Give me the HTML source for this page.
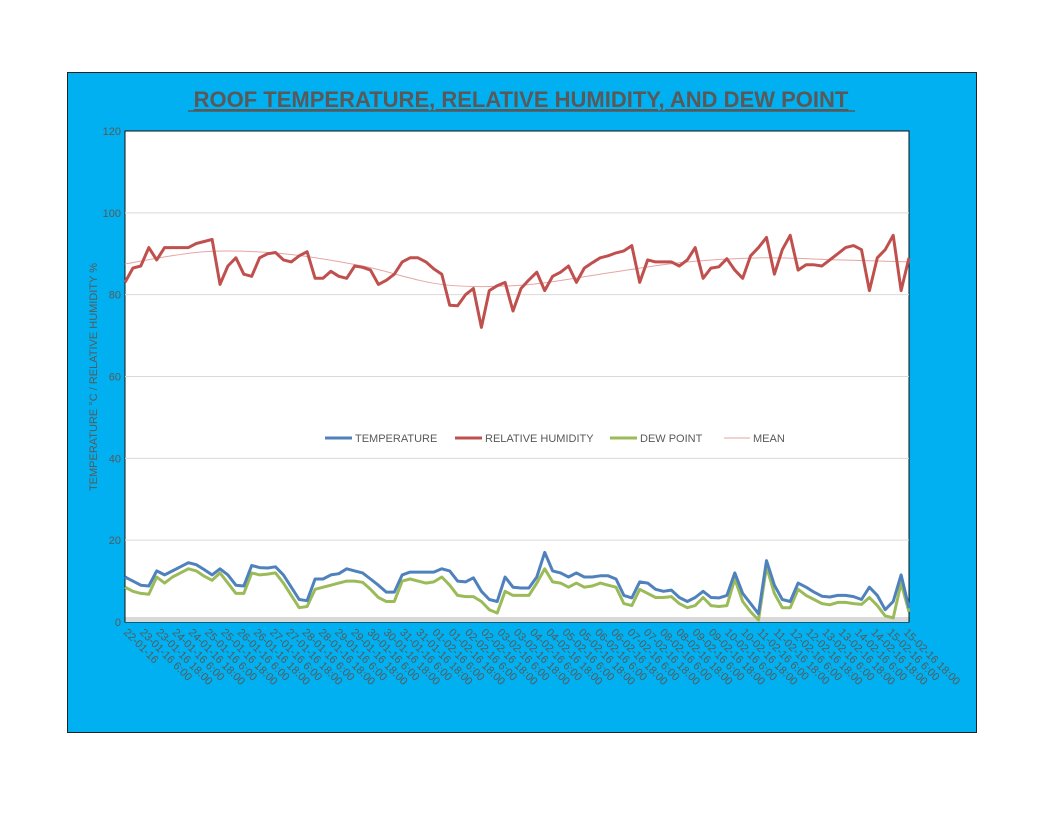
<!DOCTYPE html>
<html><head><meta charset="utf-8"><style>
body{margin:0;background:#fff;font-family:"Liberation Sans",sans-serif}
</style></head><body>
<svg width="1056" height="816" viewBox="0 0 1056 816" xmlns="http://www.w3.org/2000/svg">
<rect x="67.5" y="72.5" width="909" height="660" fill="#00B0F0" stroke="#222" stroke-width="1"/>
<text x="521" y="107" text-anchor="middle" font-size="22" font-weight="bold" fill="#595959" text-decoration="underline">ROOF TEMPERATURE, RELATIVE HUMIDITY, AND DEW POINT </text>
<line x1="188" y1="111" x2="855" y2="111" stroke="#595959" stroke-width="1.5"/>
<rect x="125" y="131" width="784" height="491" fill="#fff" stroke="#111" stroke-width="1"/>
<rect x="125.5" y="617" width="783" height="5" fill="#d9d9d9"/>
<g id="grid"></g><g id="yt"></g><g id="xt"></g><g id="series"></g>
<text transform="translate(97,377) rotate(-90)" text-anchor="middle" font-size="11" fill="#595959">TEMPERATURE °C / RELATIVE HUMIDITY %</text>
<g font-size="11" fill="#595959">
<g><line x1="325" y1="438" x2="352" y2="438" stroke="#4F81BD" stroke-width="3"/><text x="355" y="442">TEMPERATURE</text></g>
<g><line x1="455" y1="438" x2="482" y2="438" stroke="#C0504D" stroke-width="3"/><text x="485" y="442">RELATIVE HUMIDITY</text></g>
<g><line x1="610" y1="438" x2="637" y2="438" stroke="#9BBB59" stroke-width="3"/><text x="640" y="442">DEW POINT</text></g>
<g><line x1="724" y1="438" x2="750" y2="438" stroke="#E6A5A3" stroke-width="1"/><text x="753" y="442">MEAN</text></g>
</g>
</svg>
<script>
const yTicks=[0,20,40,60,80,100,120];
const dayLabels=["22-01-16","23-01-16 6:00","23-01-16 18:00","24-01-16 6:00","24-01-16 18:00","25-01-16 6:00","25-01-16 18:00","26-01-16 6:00","26-01-16 18:00","27-01-16 6:00","27-01-16 18:00","28-01-16 6:00","28-01-16 18:00","29-01-16 6:00","29-01-16 18:00","30-01-16 6:00","30-01-16 18:00","31-01-16 6:00","31-01-16 18:00","01-02-16 6:00","01-02-16 18:00","02-02-16 6:00","02-02-16 18:00","03-02-16 6:00","03-02-16 18:00","04-02-16 6:00","04-02-16 18:00","05-02-16 6:00","05-02-16 18:00","06-02-16 6:00","06-02-16 18:00","07-02-16 6:00","07-02-16 18:00","08-02-16 6:00","08-02-16 18:00","09-02-16 6:00","09-02-16 18:00","10-02-16 6:00","10-02-16 18:00","11-02-16 6:00","11-02-16 18:00","12-02-16 6:00","12-02-16 18:00","13-02-16 6:00","13-02-16 18:00","14-02-16 6:00","14-02-16 18:00","15-02-16 6:00","15-02-16 18:00"];
const humidity=[83,86.5,87,91.5,88.5,91.5,91.5,91.5,91.5,92.5,93,93.5,82.5,87,89,85,84.5,89,90,90.3,88.5,88,89.5,90.5,84,84,85.7,84.5,84,87,86.7,86,82.5,83.5,85,88,89,89,88,86.3,85,77.4,77.3,80,81.5,72,81,82.2,83,76,81.5,83.6,85.5,81,84.5,85.5,87,83,86.5,87.8,89,89.5,90.2,90.7,92,83,88.5,88,88,88,87,88.5,91.5,84,86.5,86.8,88.8,86,84,89.5,91.5,94,85,91,94.5,86,87.3,87.3,87,88.5,90,91.5,92,91,81,89,91,94.5,81,89];
const temperature=[11,10,9,8.8,12.5,11.5,12.5,13.5,14.5,14,12.8,11.5,13,11.5,9,8.8,13.8,13.3,13.2,13.5,11.5,8.5,5.5,5.2,10.5,10.5,11.5,11.8,13,12.5,12,10.5,9,7.3,7.3,11.5,12.2,12.2,12.2,12.2,13,12.5,10,9.8,10.8,7.5,5.5,5,11,8.5,8.3,8.3,11,17,12.5,12,11,12,11,11,11.3,11.3,10.5,6.5,5.9,9.8,9.5,8,7.5,7.8,6,5,6,7.5,6,5.9,6.5,12,7,4.5,2,15,9,5.5,5,9.5,8.5,7.3,6.3,6.1,6.5,6.5,6.2,5.5,8.5,6.5,3,5,11.5,3.4];
const dewPoint=[8.5,7.5,7,6.8,11,9.5,11,12,13,12.5,11.2,10.2,12,9.5,7,7,12,11.5,11.7,12,9.5,6.5,3.5,3.8,8,8.5,9,9.5,10,10,9.7,8,6,5,5,10,10.5,10,9.5,9.8,11,9,6.5,6.2,6.2,5,3,2.2,7.5,6.5,6.5,6.5,9.5,13,9.8,9.5,8.5,9.5,8.5,8.8,9.5,9,8.5,4.5,4,8,7,6,6,6.2,4.5,3.5,4,6,4,3.8,4,10.5,5,2.5,0.5,13.5,7,3.5,3.5,8,6.5,5.5,4.5,4.2,4.8,4.8,4.5,4.3,6,4,1.5,1,9.5,2.5];
const meanIdx=[0,10,20,30,40,50,60,70,80,90,99];
const meanVals=[87.5,90.5,90,87,82.5,82.3,85,87.8,89,88.5,88];
const NS="http://www.w3.org/2000/svg";
const X0=125,X1=909,Y0=622,Y1=131,N=humidity.length-1;
const sx=i=>X0+(X1-X0)*i/N;
const sy=v=>Y0-(Y0-Y1)*v/120;
function mk(t,a,p){const e=document.createElementNS(NS,t);for(const k in a)e.setAttribute(k,a[k]);p.appendChild(e);return e;}
const grid=document.getElementById('grid'),yt=document.getElementById('yt'),xt=document.getElementById('xt'),ser=document.getElementById('series');
yTicks.forEach(v=>{
 if(v>0&&v<120){const g=mk('line',{x1:X0,x2:X1,y1:sy(v),y2:sy(v),stroke:'#d9d9d9','stroke-width':1},grid);
 
 }
 const t=mk('text',{x:121,y:sy(v)+4,'text-anchor':'end','font-size':11,fill:'#595959'},yt);t.textContent=v;
 
 
});
dayLabels.forEach((s,i)=>{
 const x=X0+i*(905-X0)/(dayLabels.length-1);
 const t=mk('text',{transform:`translate(${x-2},${633}) rotate(45)`,'font-size':11,fill:'#595959'},xt);t.textContent=s;
 
 
});
function line(arr,col,w,name){
 const d=arr.map((v,i)=>(i?'L':'M')+sx(i).toFixed(1)+' '+sy(v).toFixed(1)).join('');
 const p=mk('path',{d,fill:'none',stroke:col,'stroke-width':w,'stroke-linejoin':'round'},ser);
 
 
}
const mpts=meanIdx.map((k,i)=>[sx(k),sy(meanVals[i])]);
let md='M'+mpts[0][0]+' '+mpts[0][1];
for(let i=0;i<mpts.length-1;i++){
 const p0=mpts[Math.max(0,i-1)],p1=mpts[i],p2=mpts[i+1],p3=mpts[Math.min(mpts.length-1,i+2)];
 md+=` C${p1[0]+(p2[0]-p0[0])/6} ${p1[1]+(p2[1]-p0[1])/6} ${p2[0]-(p3[0]-p1[0])/6} ${p2[1]-(p3[1]-p1[1])/6} ${p2[0]} ${p2[1]}`;
}
const mp=mk('path',{d:md,fill:'none',stroke:'#E6A5A3','stroke-width':1},ser);


line(dewPoint,'#9BBB59',3,'dew-point-line');
line(temperature,'#4F81BD',3,'temperature-line');
line(humidity,'#C0504D',3,'relative-humidity-line');
</script>
</body></html>
